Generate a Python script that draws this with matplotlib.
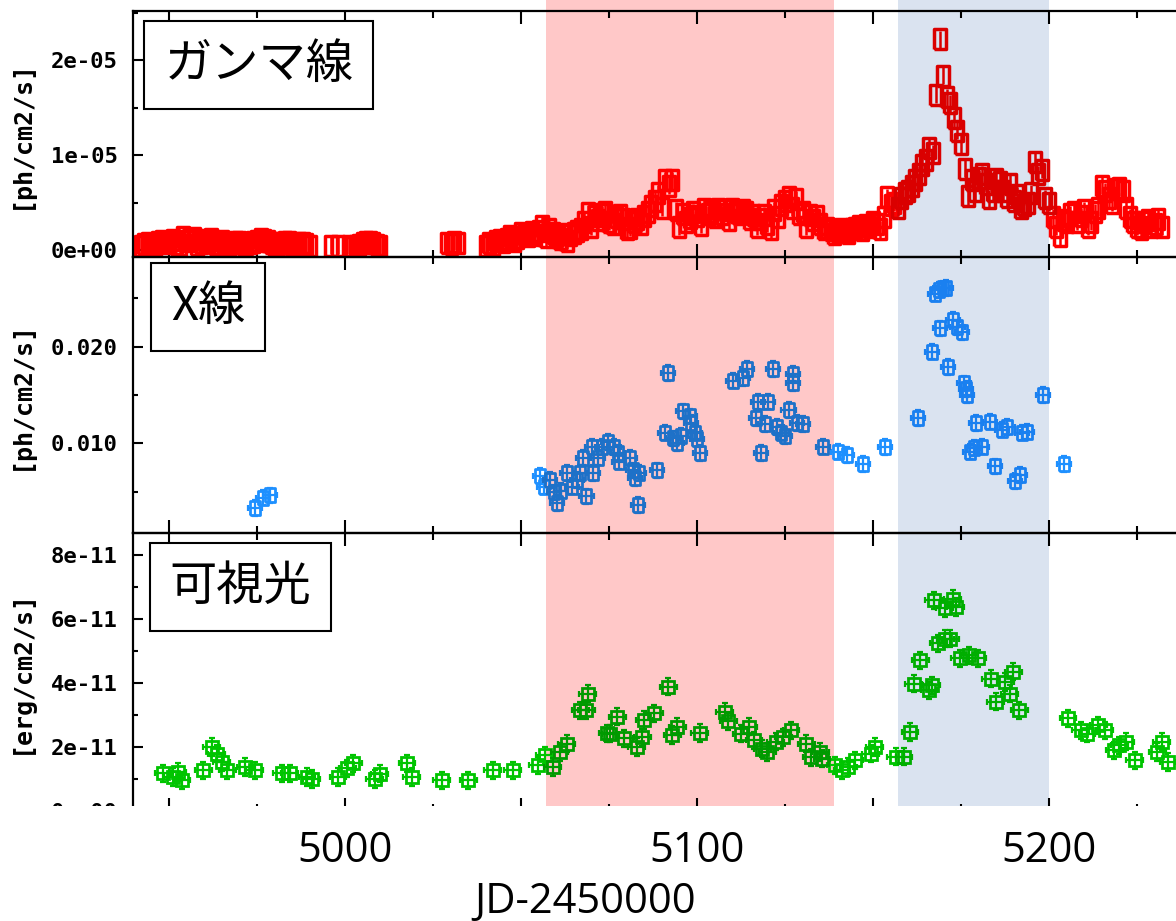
import matplotlib
matplotlib.use('Agg')
import matplotlib.pyplot as plt
import matplotlib.transforms as mtransforms
from matplotlib.patches import Rectangle
from matplotlib.ticker import MultipleLocator, FixedLocator, FixedFormatter
import numpy as np

# ---- data ----
# gamma rays, ph/cm2/s, in units of 1e-5
gamma_day = [4942, 4944, 4946, 4948, 4950, 4952, 4954, 4956, 4958, 4960, 4962, 4964,
             4966, 4968, 4970, 4972, 4974, 4976, 4978, 4980, 4982, 4984, 4986, 4988,
             4990, 4996, 4998, 5002, 5004, 5006, 5008, 5010, 5029, 5032, 5040, 5042,
             5044, 5046, 5048, 5050, 5052, 5054, 5056, 5058, 5060, 5062, 5063, 5064,
             5066, 5067, 5069, 5070, 5071, 5073, 5075, 5077, 5079, 5080, 5081, 5083,
             5085, 5087, 5089, 5091, 5093, 5094, 5095, 5096, 5098, 5100, 5101, 5102,
             5104, 5106, 5108, 5110, 5112, 5114, 5116, 5117, 5118, 5120, 5121, 5122,
             5124, 5126, 5128, 5130, 5131, 5132, 5134, 5136, 5138, 5140, 5142, 5144,
             5146, 5148, 5150, 5152, 5154, 5156, 5158, 5160, 5162, 5164, 5166, 5168,
             5169, 5170, 5171, 5172, 5173, 5174, 5175, 5176, 5177, 5178, 5180, 5182,
             5184, 5186, 5188, 5190, 5192, 5194, 5196, 5197, 5199, 5201, 5203, 5205,
             5207, 5209, 5211, 5213, 5215, 5217, 5219, 5221, 5223, 5225, 5227, 5229,
             5231,
             4943, 4945, 4947, 4949, 4951, 4953, 4955, 4957, 4959, 4961, 4963, 4965,
             4967, 4969, 4971, 4973, 4975, 4977, 4979, 4981, 4983, 4985, 4987, 4989,
             5001, 5003, 5005, 5007, 5009, 5030, 5031,
             5041, 5043, 5045, 5047, 5049, 5051, 5053, 5055, 5057, 5059, 5061, 5065,
             5068, 5072, 5074, 5076, 5078, 5082, 5084, 5086, 5088, 5090, 5092, 5097,
             5099, 5103, 5105, 5107, 5109, 5111, 5113, 5115, 5119, 5123, 5125, 5127,
             5129, 5133, 5135, 5137, 5139, 5141, 5143, 5145, 5147, 5149, 5151, 5153,
             5155, 5157, 5159, 5161, 5163, 5165, 5167,
             5179, 5181, 5183, 5185, 5187, 5189, 5191, 5193, 5195, 5198, 5200, 5202,
             5204, 5206, 5208, 5210, 5212, 5214, 5216, 5218, 5220, 5222, 5224, 5226,
             5228, 5230, 5232]
gamma_flux = [0.05, 0.08, 0.06, 0.10, 0.09, 0.07, 0.14, 0.12, 0.06, 0.11, 0.12, 0.07,
              0.05, 0.08, 0.09, 0.07, 0.09, 0.12, 0.10, 0.05, 0.08, 0.09, 0.07, 0.08,
              0.05, 0.05, 0.05, 0.04, 0.06, 0.09, 0.08, 0.05, 0.08, 0.08, 0.05, 0.06,
              0.11, 0.12, 0.10, 0.18, 0.15, 0.16, 0.26, 0.22, 0.15, 0.17, 0.10, 0.16,
              0.20, 0.23, 0.39, 0.25, 0.36, 0.38, 0.30, 0.35, 0.33, 0.22, 0.24, 0.33,
              0.36, 0.47, 0.60, 0.74, 0.74, 0.42, 0.25, 0.38, 0.34, 0.36, 0.27, 0.44,
              0.40, 0.44, 0.42, 0.44, 0.38, 0.40, 0.37, 0.25, 0.33, 0.28, 0.22, 0.42,
              0.48, 0.56, 0.54, 0.40, 0.25, 0.37, 0.36, 0.22, 0.21, 0.19, 0.20, 0.22,
              0.26, 0.27, 0.30, 0.22, 0.56, 0.50, 0.55, 0.63, 0.74, 0.90, 1.08, 1.64,
              2.22, 1.84, 1.61, 1.55, 1.39, 1.26, 1.12, 0.86, 0.57, 0.74, 0.76, 0.70,
              0.62, 0.72, 0.56, 0.52, 0.45, 0.50, 0.93, 0.80, 0.55, 0.35, 0.15, 0.30,
              0.40, 0.36, 0.25, 0.40, 0.68, 0.55, 0.65, 0.63, 0.35, 0.25, 0.30, 0.25,
              0.33,
              0.07, 0.05, 0.09, 0.08, 0.11, 0.06, 0.10, 0.13, 0.08, 0.09, 0.07, 0.10,
              0.06, 0.09, 0.07, 0.08, 0.10, 0.11, 0.08, 0.07, 0.09, 0.06, 0.08, 0.07,
              0.05, 0.05, 0.08, 0.09, 0.06, 0.07, 0.09,
              0.08, 0.10, 0.09, 0.15, 0.13, 0.16, 0.19, 0.20, 0.14, 0.18, 0.12, 0.18,
              0.30, 0.32, 0.40, 0.28, 0.37, 0.30, 0.28, 0.40, 0.52, 0.45, 0.68, 0.30,
              0.40, 0.38, 0.35, 0.38, 0.32, 0.40, 0.43, 0.33, 0.37, 0.35, 0.52, 0.45,
              0.38, 0.32, 0.28, 0.24, 0.17, 0.22, 0.18, 0.24, 0.21, 0.25, 0.28, 0.35,
              0.48, 0.45, 0.60, 0.68, 0.80, 0.95, 1.02,
              0.62, 0.80, 0.55, 0.75, 0.62, 0.70, 0.58, 0.48, 0.60, 0.85, 0.50, 0.25,
              0.32, 0.38, 0.30, 0.42, 0.30, 0.45, 0.62, 0.50, 0.66, 0.45, 0.30, 0.22,
              0.32, 0.28, 0.25]

# X-rays, ph/cm2/s, in units of 1e-3
xray_day = [4974.4, 4976.7, 4978.7,
            5055.4, 5056.5, 5058.2, 5059.5, 5060.3, 5061.3, 5063.0, 5064.5, 5065.8,
            5066.8, 5067.6, 5068.6, 5070.3, 5070.5, 5071.8, 5073.0, 5074.8, 5076.3,
            5077.6, 5077.8, 5081.0, 5081.8, 5082.4, 5083.5, 5083.3, 5088.6, 5091.8,
            5091.0, 5093.2, 5094.2, 5096.0, 5095.4, 5098.0, 5098.4, 5099.5, 5100.0,
            5100.9, 5110.2, 5113.0, 5114.2, 5121.6, 5127.3, 5127.4, 5117.4, 5120.2,
            5116.8, 5119.3, 5118.2, 5126.0, 5122.6, 5124.0, 5125.0, 5128.5, 5130.0,
            5135.8, 5140.0, 5142.6, 5147.2, 5153.4,
            5162.8, 5166.8, 5169.0, 5167.6, 5168.7, 5170.0, 5170.8, 5171.3, 5172.7,
            5174.0, 5175.3, 5175.9, 5176.3, 5176.6, 5177.6, 5178.7, 5181.0, 5179.3,
            5183.2, 5184.7, 5186.7, 5188.2, 5190.3, 5191.8, 5192.4, 5193.8, 5198.3,
            5204.3]
xray_flux = [3.3, 4.35, 4.6,
             6.6, 5.5, 6.2, 4.9, 3.8, 5.1, 6.9, 5.5, 6.2,
             6.9, 8.5, 4.5, 9.6, 6.9, 8.5, 9.6, 10.15, 9.6,
             9.0, 8.1, 8.5, 7.2, 6.4, 6.9, 3.6, 7.2, 17.3,
             11.1, 10.5, 10.0, 13.3, 10.8, 12.8, 12.1, 11.1, 10.4,
             9.0, 16.5, 16.75, 17.7, 17.7, 17.2, 16.2, 14.3, 14.3,
             12.6, 12.0, 9.0, 13.45, 11.7, 11.1, 10.7, 12.1, 12.0,
             9.66, 9.14, 8.8, 7.87, 9.6,
             12.6, 19.5, 21.9, 25.5, 25.9, 26.05, 26.1, 17.9, 22.8,
             22.0, 21.5, 16.2, 15.6, 15.0, 9.14, 9.5, 9.66, 12.1,
             12.25, 7.6, 11.4, 11.7, 6.04, 6.73, 11.1, 11.2, 15.0,
             7.87]

# optical, erg/cm2/s, in units of 1e-11
opt_day = [4948.3, 4951.1, 4952.5, 4953.7, 4959.7, 4962.2, 4963.6, 4965.0, 4966.5,
           4971.6, 4974.4, 4982.0, 4984.3, 4989.2, 4990.6, 4998.0, 5000.6, 5002.3,
           5008.5, 5009.9, 5017.6, 5019.0, 5027.5, 5035.0, 5042.0, 5047.7, 5054.8,
           5056.8, 5059.0, 5061.0, 5063.0, 5066.8, 5068.5, 5069.0, 5074.5, 5075.3,
           5077.4, 5079.3, 5082.9, 5084.4, 5085.0, 5087.9, 5091.8, 5093.0, 5094.4,
           5100.8, 5107.9, 5108.9, 5112.5, 5114.7, 5116.2, 5118.5, 5120.0, 5122.4,
           5124.5, 5126.7, 5131.0, 5132.5, 5135.0, 5135.5, 5139.2, 5141.2, 5143.0,
           5144.9, 5149.4, 5150.5, 5156.5, 5158.8, 5160.5, 5161.6, 5163.4, 5165.9,
           5166.7, 5167.3, 5168.5, 5170.5, 5172.0, 5170.4, 5172.7, 5173.5, 5174.7,
           5177.3, 5179.8, 5183.5, 5184.9, 5187.6, 5188.8, 5189.8, 5191.5, 5205.4,
           5209.0, 5210.8, 5214.0, 5215.8, 5218.5, 5220.0, 5221.8, 5224.4, 5230.7,
           5232.0, 5233.8]
opt_flux = [1.17, 1.06, 1.22, 0.96, 1.27, 2.0, 1.79, 1.53, 1.27,
            1.37, 1.27, 1.17, 1.17, 1.06, 1.0, 1.06, 1.33, 1.49,
            1.0, 1.16, 1.49, 1.06, 0.96, 0.96, 1.27, 1.27, 1.43,
            1.74, 1.37, 1.84, 2.1, 3.15, 3.15, 3.67, 2.43, 2.42,
            2.95, 2.27, 2.0, 2.3, 2.84, 3.05, 3.88, 2.37, 2.63,
            2.44, 3.1, 2.8, 2.42, 2.63, 2.21, 1.95, 1.84, 2.16,
            2.3, 2.52, 2.1, 1.68, 1.84, 1.63, 1.43, 1.27, 1.37,
            1.58, 1.79, 2.0, 1.69, 1.69, 2.47, 3.98, 4.71, 3.77,
            3.93, 6.59, 5.24, 5.39, 5.39, 6.33, 6.64, 6.38, 4.77,
            4.87, 4.77, 4.14, 3.41, 4.03, 3.67, 4.35, 3.15, 2.89,
            2.52, 2.42, 2.68, 2.52, 1.9, 2.05, 2.16, 1.58, 1.84,
            2.16, 1.53]

red_span = (5057, 5139)
blue_span = (5157, 5200)
red_shade = '#ffc8c8'
blue_shade = '#dae3f0'

panel_names = ['ガンマ線', 'X線', '可視光']
panel_units = ['[ph/cm2/s]', '[ph/cm2/s]', '[erg/cm2/s]']

# ---- figure layout, in pixels of the 1176x921 picture ----
W, H = 1176, 921
fig = plt.figure(figsize=(W / 100, H / 100), dpi=100)
fig.patch.set_facecolor('white')

x_left_px, x_right_px = 133, 1190
px_per_day = 3.52
xlim = (5000 - (345 - x_left_px) / px_per_day, 5000 + (x_right_px - 345) / px_per_day)

def axes_rect(top_px, bottom_px):
    return [x_left_px / W, 1 - bottom_px / H, (x_right_px - x_left_px) / W,
            (bottom_px - top_px) / H]

ax1 = fig.add_axes(axes_rect(11, 257))
ax2 = fig.add_axes(axes_rect(257, 533))
ax3 = fig.add_axes(axes_rect(533, 811))
axes = [ax1, ax2, ax3]

# shaded periods, over the whole height of the picture
trans = mtransforms.blended_transform_factory(ax3.transData, fig.transFigure)
for span, col in [(red_span, red_shade), (blue_span, blue_shade)]:
    fig.add_artist(Rectangle((span[0], 0), span[1] - span[0], 1, transform=trans,
                             facecolor=col, edgecolor='none', zorder=-1))


def multiply(base, shade):
    b = np.array(matplotlib.colors.to_rgb(base))
    s = np.array(matplotlib.colors.to_rgb(shade))
    return tuple(b * s)


def split_by_period(day, flux):
    day = np.asarray(day, float)
    flux = np.asarray(flux, float)
    in_red = (day >= red_span[0]) & (day <= red_span[1])
    in_blue = (day >= blue_span[0]) & (day <= blue_span[1])
    rest = ~(in_red | in_blue)
    return [(day[rest], flux[rest], None), (day[in_red], flux[in_red], red_shade),
            (day[in_blue], flux[in_blue], blue_shade)]


tall_box = [(-0.64, -1), (0.64, -1), (0.64, 1), (-0.64, 1), (-0.64, -1)]
small_box = [(-0.8, -1), (0.8, -1), (0.8, 1), (-0.8, 1), (-0.8, -1)]

# gamma
for d, f, shade in split_by_period(gamma_day, gamma_flux):
    c = '#ff0000' if shade is None else multiply('#ff0000', shade)
    ax1.errorbar(d, f * 1e-5, yerr=0.09e-5, fmt='none', ecolor=c, elinewidth=1.8, capsize=0)
    ax1.plot(d, f * 1e-5, linestyle='none', marker=tall_box, markersize=14,
             mfc='none', mec=c, mew=2.5)

# x-ray
for d, f, shade in split_by_period(xray_day, xray_flux):
    c = '#1e90ff' if shade is None else multiply('#1e90ff', shade)
    ax2.errorbar(d, f * 1e-3, xerr=2.0, yerr=0.8e-3, fmt='none', ecolor=c,
                 elinewidth=1.6, capsize=2.5, capthick=1.6)
    ax2.plot(d, f * 1e-3, linestyle='none', marker=small_box, markersize=9.5,
             mfc='none', mec=c, mew=2.0)

# optical
for d, f, shade in split_by_period(opt_day, opt_flux):
    c = '#00c400' if shade is None else multiply('#00c400', shade)
    ax3.errorbar(d, f * 1e-11, xerr=2.4, yerr=0.27e-11, fmt='none', ecolor=c,
                 elinewidth=1.6, capsize=2.5, capthick=1.6)
    ax3.plot(d, f * 1e-11, linestyle='none', marker='s', markersize=9,
             mfc='none', mec=c, mew=2.0)

# y scales
ax1.set_ylim(-0.07e-5, 2.52e-5)
ax2.set_ylim(0.0007, 0.0293)
ax3.set_ylim(-0.003e-11, 8.69e-11)

yticks = [[0, 1e-5, 2e-5], [0.010, 0.020], [0, 2e-11, 4e-11, 6e-11, 8e-11]]
ylabels = [['0e+00', '1e-05', '2e-05'], ['0.010', '0.020'],
           ['0e+00', '2e-11', '4e-11', '6e-11', '8e-11']]
yminor = [0.5e-5, 0.005, 1e-11]

mono = {'family': 'DejaVu Sans Mono', 'weight': 'bold'}
for ax, ticks, labs, mstep, unit in zip(axes, yticks, ylabels, yminor, panel_units):
    ax.patch.set_visible(False)
    ax.set_xlim(xlim)
    ax.xaxis.set_major_locator(MultipleLocator(50))
    ax.xaxis.set_minor_locator(MultipleLocator(25))
    ax.yaxis.set_major_locator(FixedLocator(ticks))
    ax.yaxis.set_major_formatter(FixedFormatter(labs))
    ax.yaxis.set_minor_locator(MultipleLocator(mstep))
    ax.tick_params(axis='x', which='both', direction='in', top=True, bottom=True,
                   labelbottom=False, width=1.5)
    ax.tick_params(axis='x', which='major', length=9.5)
    ax.tick_params(axis='x', which='minor', length=5)
    ax.tick_params(axis='y', which='both', direction='in', left=True, right=True, width=1.5)
    ax.tick_params(axis='y', which='major', length=7, pad=11)
    ax.tick_params(axis='y', which='minor', length=3.6)
    for lab in ax.get_yticklabels():
        lab.set_fontfamily(mono['family'])
        lab.set_fontweight('bold')
        lab.set_fontsize(16)
    for sp in ax.spines.values():
        sp.set_linewidth(1.6)
    ax.set_ylabel(unit, fontsize=18, **mono)
    ax.yaxis.set_label_coords((33 - x_left_px) / (x_right_px - x_left_px), 0.5)

# panel name boxes
box_pos = [(0.119, 0.780), (0.071, 0.819), (0.1017, 0.806)]
for ax, name, (bx, by) in zip(axes, panel_names, box_pos):
    ax.text(bx, by, name, transform=ax.transAxes, ha='center', va='center',
            fontsize=34, family=['Noto Sans CJK JP', 'DejaVu Sans'], zorder=5,
            bbox=dict(boxstyle='square,pad=0.42', facecolor='white',
                      edgecolor='black', linewidth=1.5))

# the lower strip of the picture is blank and carries larger labels
fig.add_artist(Rectangle((0, 0), 1, 1 - 806 / H, transform=fig.transFigure,
                         facecolor='white', edgecolor='none', zorder=10))
axl = fig.add_axes([x_left_px / W, 1 - 806 / H, (x_right_px - x_left_px) / W, 1e-4])
axl.set_zorder(20)
axl.patch.set_visible(False)
for sp in axl.spines.values():
    sp.set_visible(False)
axl.set_xlim(xlim)
axl.set_xticks([5000, 5100, 5200])
axl.set_yticks([])
axl.tick_params(axis='x', length=0, pad=17, labelsize=30)
for lab in axl.get_xticklabels():
    lab.set_fontfamily('Open Sans')
fig.text(585 / W, 1 - 902 / H, 'JD-2450000', ha='center', va='center',
         fontsize=30, family='Open Sans', zorder=21)

fig.savefig('out.png', dpi=100)
